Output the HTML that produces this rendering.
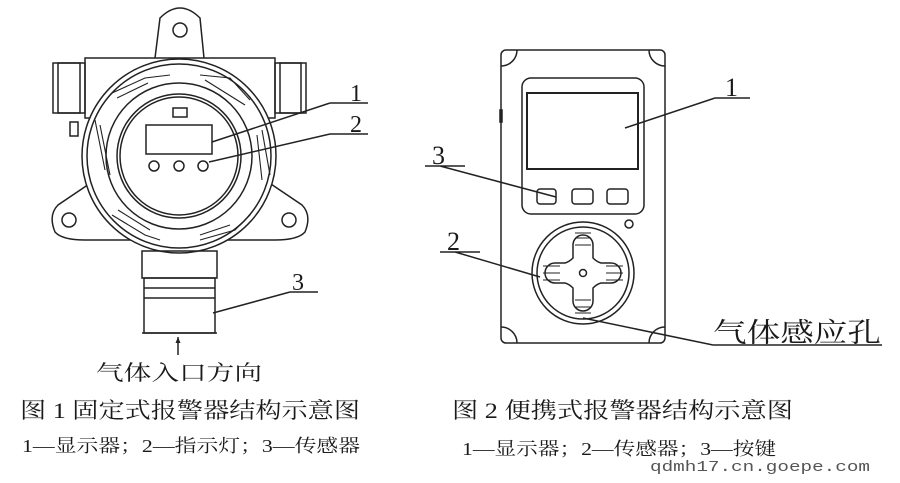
<!DOCTYPE html>
<html><head><meta charset="utf-8"><style>
html,body{margin:0;padding:0;background:#fff;width:900px;height:483px;overflow:hidden}
svg{display:block}
text{font-family:"Liberation Serif","Noto Serif CJK SC",serif;fill:#1a1a1a}
</style></head><body>
<svg width="900" height="483" viewBox="0 0 900 483" xmlns="http://www.w3.org/2000/svg">
<g fill="none" stroke="#222" stroke-width="1.5">
<!-- LEFT DEVICE -->
<path d="M155 58 L160 18 Q180 -2 200 18 L204 58"/>
<circle cx="180" cy="30" r="7"/>
<rect x="85" y="58" width="190" height="60"/>
<rect x="53" y="63" width="32" height="50"/>
<rect x="58" y="63" width="22" height="50"/>
<rect x="275" y="63" width="31" height="50"/>
<rect x="280" y="63" width="21" height="50"/>
<path d="M95 180 L58 205 Q48 215 55 232 Q62 240 85 240 L140 240"/>
<path d="M265 180 L302 205 Q312 215 305 232 Q298 240 275 240 L220 240"/>
<circle cx="69" cy="220" r="7"/>
<circle cx="289" cy="220" r="7"/>
<rect x="70" y="122" width="8" height="14"/>
<circle cx="179" cy="156" r="97" fill="#fff"/>
<circle cx="179" cy="156" r="92"/>
<circle cx="179" cy="156" r="73"/>
<circle cx="179" cy="156" r="62"/>
<circle cx="179" cy="156" r="59"/>
<g stroke-width="1.1">
<path d="M112 93 L145 78 L170 75 M117 98 L148 83"/>
<path d="M200 75 L230 78 L250 100 M205 80 L245 105"/>
<path d="M95 120 L105 170 M100 125 L110 175"/>
<path d="M262 130 L270 175 M257 135 L262 180"/>
<path d="M112 215 L145 235 L160 240 M118 210 L150 230"/>
<path d="M200 240 L235 230 L250 215 M200 235 L230 225"/>
</g>
<rect x="146" y="125" width="66" height="29"/>
<rect x="173" y="108" width="14" height="9"/>
<circle cx="154" cy="166" r="5"/>
<circle cx="179" cy="166" r="5"/>
<circle cx="203" cy="166" r="5"/>
<rect x="142" y="251" width="75" height="27"/>
<path d="M144 278 H215 V333 H144 Z M144 288 H215 M144 298 H215"/>
<path d="M142 333 H217"/>
<path d="M330 103 H368 M330 103 L212 142"/>
<path d="M330 134 H368 M330 134 L209 162"/>
<path d="M290 292 H318 M290 292 L213 313"/>
<path d="M178 355 V337"/>
<!-- RIGHT DEVICE -->
<rect x="501" y="50" width="164" height="293" rx="5"/>
<path d="M501 66 A16 16 0 0 0 517 50 M649 50 A16 16 0 0 0 665 66 M501 327 A16 16 0 0 1 517 343 M649 343 A16 16 0 0 1 665 327"/>
<rect x="522" y="78" width="122" height="136" rx="9"/>
<rect x="527" y="93" width="111" height="76" stroke-width="2"/>
<rect x="537" y="189" width="19" height="15" rx="3"/>
<rect x="572" y="189" width="21" height="15" rx="3"/>
<rect x="607" y="189" width="21" height="15" rx="3"/>
<rect x="500" y="110" width="2" height="12" fill="#222"/>
<circle cx="583" cy="273" r="51"/>
<circle cx="583" cy="273" r="46"/>
<circle cx="629" cy="224" r="4"/>
<path d="M573 245 A10 10 0 0 1 593 245 L593 258 Q597 262 601 263 L611 263 A10 10 0 0 1 611 283 L601 283 Q597 284 593 288 L593 301 A10 10 0 0 1 573 301 L573 288 Q569 284 565 283 L555 283 A10 10 0 0 1 555 263 L565 263 Q569 262 573 258 Z"/>
<circle cx="583" cy="273" r="3.5"/>
<g stroke-width="1.1">
<path d="M575 233 H591 M575 238 H591 M575 245 H591 M575 300 H591 M575 307 H591 M575 313 H591"/>
<path d="M543 266 H560 M543 273 H560 M543 280 H560 M606 266 H623 M606 273 H623 M606 280 H623"/>
</g>
<path d="M715 98 H750 M715 98 L625 128"/>
<path d="M425 166 H465 M440 166 L556 197"/>
<path d="M440 252 H480 M455 252 L540 277"/>
<path d="M713 345 H882 M713 345 L583 318"/>
</g>
<path d="M178 337 l-2.5 6 h5 z" fill="#222"/>
<text x="350" y="101" font-size="24">1</text>
<text x="350" y="132" font-size="24">2</text>
<text x="292" y="290" font-size="24">3</text>
<text x="96" y="380" font-size="21" textLength="166" lengthAdjust="spacingAndGlyphs">气体入口方向</text>
<text x="725" y="96" font-size="26">1</text>
<text x="432" y="164" font-size="26">3</text>
<text x="447" y="250" font-size="26">2</text>
<text x="713" y="342" font-size="27" textLength="168" lengthAdjust="spacingAndGlyphs">气体感应孔</text>
<text x="20" y="418" font-size="22" textLength="340" lengthAdjust="spacingAndGlyphs">图 1 固定式报警器结构示意图</text>
<text x="22" y="452" font-size="18" textLength="338" lengthAdjust="spacingAndGlyphs">1—显示器；2—指示灯；3—传感器</text>
<text x="452" y="418" font-size="22" textLength="341" lengthAdjust="spacingAndGlyphs">图 2 便携式报警器结构示意图</text>
<text x="462" y="455" font-size="18" textLength="314" lengthAdjust="spacingAndGlyphs">1—显示器；2—传感器；3—按键</text>
<text x="650" y="471" font-size="15" textLength="220" lengthAdjust="spacingAndGlyphs" style="font-family:'Liberation Mono',monospace;fill:#555">qdmh17.cn.goepe.com</text>
</svg>
</body></html>
